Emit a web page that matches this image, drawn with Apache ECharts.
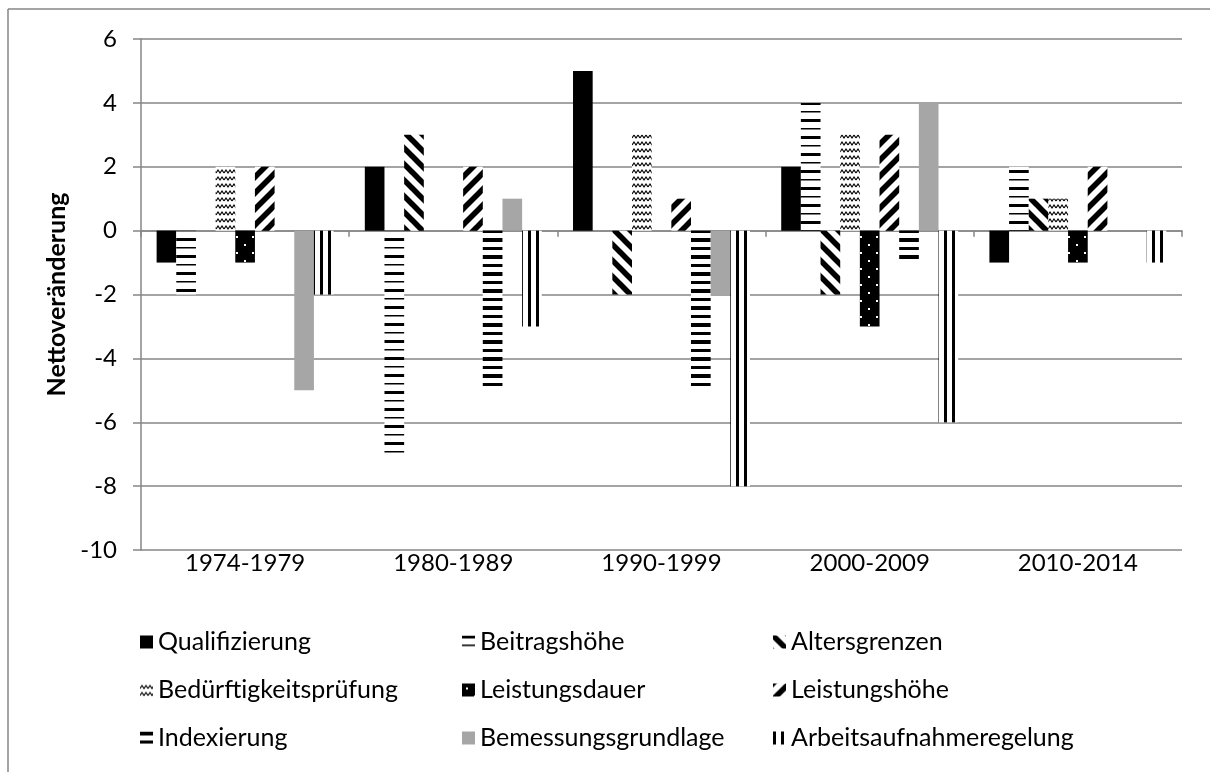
<!DOCTYPE html>
<html><head><meta charset="utf-8">
<script src="https://cdn.jsdelivr.net/npm/echarts@6/dist/echarts.min.js"></script>
<style>html,body{margin:0;padding:0;background:#fff}#c{width:1210px;height:772px}</style>
</head><body><div id="c"></div>
<script>
const categories = ['1974-1979','1980-1989','1990-1999','2000-2009','2010-2014'];
const seriesNames = ['Qualifizierung','Beitragshöhe','Altersgrenzen','Bedürftigkeitsprüfung','Leistungsdauer','Leistungshöhe','Indexierung','Bemessungsgrundlage','Arbeitsaufnahmeregelung'];
const qualifizierung = [-1, 2, 5, 2, -1];
const beitragshoehe = [-2, -7, 0, 4, 2];
const altersgrenzen = [0, 3, -2, -2, 1];
const beduerftigkeit = [2, 0, 3, 3, 1];
const leistungsdauer = [-1, 0, 0, -3, -1];
const leistungshoehe = [2, 2, 1, 3, 2];
const indexierung = [0, -5, -5, -1, 0];
const bemessung = [-5, 1, -2, 4, 0];
const arbeitsaufnahme = [-2, -3, -8, -6, -1];
const yTicks = {min: -10, max: 6, interval: 2};

function mk(w, h, bg, draw) {
  const c = document.createElement('canvas'); c.width = w; c.height = h;
  const g = c.getContext('2d'); g.fillStyle = bg; g.fillRect(0, 0, w, h); draw(g); return c;
}
const pat = {
  solid: '#000000',
  beitrag: mk(8, 17, '#fff', g => { g.fillStyle = '#000'; g.fillRect(0, 0, 8, 3); g.fillRect(0, 9, 8, 1.5); }),
  alters: mk(16, 16, '#fff', g => { g.strokeStyle = '#000'; g.lineWidth = 5.5;
    for (let k = -1; k <= 1; k++) { g.beginPath(); g.moveTo(-4, -4 + k * 16); g.lineTo(20, 20 + k * 16); g.stroke(); } }),
  wave: mk(8, 7, '#fff', g => { g.strokeStyle = '#000'; g.lineWidth = 1.2; g.beginPath();
    g.moveTo(0, 5); g.lineTo(2, 2); g.lineTo(4, 5); g.lineTo(6, 2); g.lineTo(8, 5); g.stroke(); }),
  dots: mk(16, 16, '#000', g => { g.fillStyle = '#fff'; g.fillRect(4, 4, 2, 2); g.fillRect(12, 12, 2, 2); }),
  hoehe: mk(16, 16, '#fff', g => { g.strokeStyle = '#000'; g.lineWidth = 5.5;
    for (let k = -1; k <= 1; k++) { g.beginPath(); g.moveTo(-4, 20 + k * 16); g.lineTo(20, -4 + k * 16); g.stroke(); } }),
  index: mk(8, 17, '#fff', g => { g.fillStyle = '#000'; g.fillRect(0, 0, 8, 4); g.fillRect(0, 9, 8, 3); }),
  gray: '#a6a6a6',
  vert: mk(8, 8, '#fff', g => { g.fillStyle = '#000'; g.fillRect(0, 0, 3, 8); })
};
function col(p) { return typeof p === 'string' ? p : {image: p, repeat: 'repeat'}; }
const dataList = [qualifizierung, beitragshoehe, altersgrenzen, beduerftigkeit, leistungsdauer, leistungshoehe, indexierung, bemessung, arbeitsaufnahme];
const styles = [pat.solid, pat.beitrag, pat.alters, pat.wave, pat.dots, pat.hoehe, pat.index, pat.gray, pat.vert];

const FONT = 'Lato';
const series = seriesNames.map((n, i) => ({
  name: n, type: 'bar', xAxisIndex: 0, yAxisIndex: 0,
  data: dataList[i], barGap: '0%', barCategoryGap: '15%',
  itemStyle: {color: col(styles[i])}
}));

const chart = echarts.init(document.getElementById('c'), null, {renderer: 'canvas'});
const legendBase = {
  orient: 'vertical', top: 628, itemWidth: 13, itemHeight: 13, itemGap: 20, padding: 0,
  icon: 'rect', selectedMode: false,
  textStyle: {fontFamily: FONT, fontSize: 25, color: '#000', lineHeight: 28, padding: [0, 0, 0, 0]}
};
chart.setOption({
  animation: false,
  backgroundColor: '#fff',
  grid: {left: 141, right: 28, top: 39, bottom: 222},
  legend: [
    Object.assign({}, legendBase, {left: 140, data: [seriesNames[0], seriesNames[3], seriesNames[6]]}),
    Object.assign({}, legendBase, {left: 462, data: [seriesNames[1], seriesNames[4], seriesNames[7]]}),
    Object.assign({}, legendBase, {left: 773, data: [seriesNames[2], seriesNames[5], seriesNames[8]]})
  ],
  xAxis: [
    {type: 'category', data: categories, position: 'bottom',
     axisLine: {onZero: true, lineStyle: {color: '#868686', width: 1.5}},
     axisTick: {show: true, length: 6, lineStyle: {color: '#868686', width: 1.5}},
     axisLabel: {show: false}},
    {type: 'category', data: categories, position: 'bottom',
     axisLine: {show: false, onZero: false}, axisTick: {show: false},
     axisLabel: {show: true, margin: 1, fontFamily: FONT, fontSize: 24, color: '#000'}}
  ],
  yAxis: {
    type: 'value', min: yTicks.min, max: yTicks.max, interval: yTicks.interval,
    name: 'Nettoveränderung', nameLocation: 'middle', nameGap: 66, nameRotate: 90,
    nameTextStyle: {fontFamily: FONT, fontSize: 25, fontWeight: 'bold', color: '#000'},
    axisLine: {show: true, lineStyle: {color: '#868686', width: 1.5}},
    axisTick: {show: true, length: 8, lineStyle: {color: '#868686', width: 1.5}},
    axisLabel: {margin: 24, fontFamily: FONT, fontSize: 24, color: '#000'},
    splitLine: {show: true, lineStyle: {color: '#868686', width: 1.5}}
  },
  graphic: [
    {type: 'line', shape: {x1: 8, y1: 9, x2: 1210, y2: 9}, style: {stroke: '#868686', lineWidth: 1.5}, silent: true},
    {type: 'line', shape: {x1: 8, y1: 9, x2: 8, y2: 772}, style: {stroke: '#868686', lineWidth: 1.5}, silent: true}
  ],
  series: series
});
</script></body></html>
